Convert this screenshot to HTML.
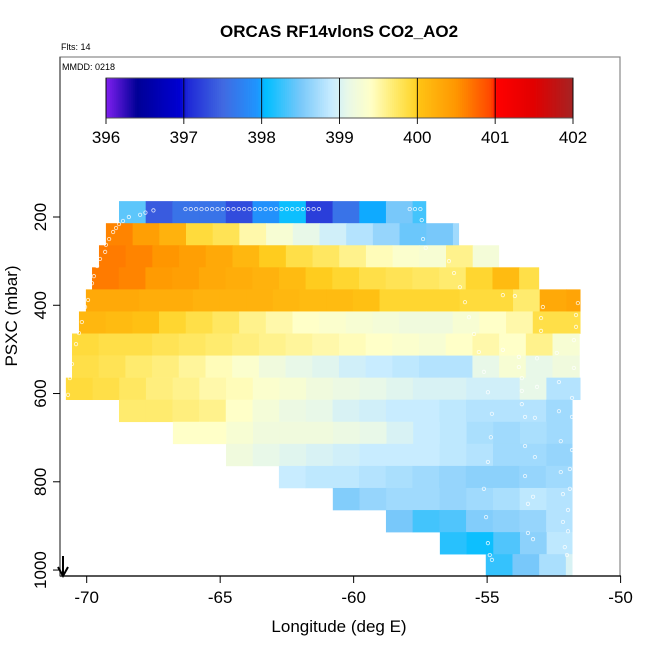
<!DOCTYPE html>
<html><head><meta charset="utf-8"><style>
body{margin:0;background:#fff}
svg{display:block;font-family:"Liberation Sans",sans-serif}
</style></head><body>
<svg id="chart" width="650" height="650" viewBox="0 0 650 650" xmlns="http://www.w3.org/2000/svg">
<rect width="650" height="650" fill="#fff"/>
<text x="339" y="37" text-anchor="middle" font-size="17" font-weight="bold">ORCAS RF14vlonS CO2_AO2</text>
<text x="61" y="50" font-size="9">Flts: 14</text>
<g id="heat"></g>
<g id="pts"></g>
<rect x="60" y="57" width="560" height="519" fill="none" stroke="#888" stroke-width="1.2"/>
<line x1="60" y1="576" x2="621" y2="576" stroke="#000" stroke-width="1.3"/>
<line x1="60" y1="57" x2="60" y2="576" stroke="#555" stroke-width="1.3"/>
<text x="62" y="70" font-size="9">MMDD: 0218</text>
<g id="cbar"></g>
<g id="axes"></g>
<text x="339" y="632" text-anchor="middle" font-size="17">Longitude (deg E)</text>
<text transform="translate(17,316) rotate(-90)" text-anchor="middle" font-size="17">PSXC (mbar)</text>
<g><line x1="63" y1="556" x2="63" y2="575" stroke="#000" stroke-width="2"/><path d="M58,567 L63,576 L68,567" fill="none" stroke="#000" stroke-width="2"/></g>
</svg>
<script>
const rowPressure=[189,239,289,339,389,439,489,539,589,639,689,739,789,839,889,939,989];
const rowStartLon=[-68.79,-69.28,-69.54,-69.80,-70.03,-70.29,-70.55,-70.55,-70.78,-68.79,-66.77,-64.78,-62.80,-60.78,-58.79,-56.77,-55.05];
const rowEndLon=[-57.3,-56.07,-54.57,-53.07,-51.52,-51.52,-51.52,-51.52,-51.52,-51.82,-51.82,-51.82,-51.82,-51.82,-51.82,-51.82,-51.82];
const rowValues=[
[398.4,397.4,397.6,397.6,397.3,397.9,398.1,397.2,397.6,398.0,398.5,398.3],
[400.6,400.4,400.2,399.9,399.8,399.5,399.3,399.1,398.95,398.8,398.65,398.45,398.5,398.7],
[400.65,400.6,400.5,400.4,400.3,400.15,400.0,399.85,399.75,399.6,399.45,399.35,399.3,399.6,399.25],
[400.65,400.6,400.45,400.4,400.3,400.25,400.2,400.1,400.0,399.95,399.85,399.8,399.75,399.7,399.95,400.1,399.85],
[400.3,400.3,400.25,400.25,400.2,400.2,400.2,400.15,400.1,400.1,400.05,399.95,399.95,399.95,399.9,399.9,399.7,400.3,400.35],
[400.15,400.1,400.05,399.95,399.85,399.75,399.6,399.5,399.4,399.35,399.3,399.25,399.2,399.2,399.3,399.4,399.5,399.85,399.85],
[399.9,399.85,399.85,399.8,399.75,399.7,399.65,399.6,399.55,399.5,399.45,399.4,399.35,399.3,399.4,399.5,399.4,399.6,399.3],
[399.85,399.8,399.7,399.65,399.55,399.45,399.35,399.2,399.1,399.05,398.95,398.9,398.85,398.8,398.8,399.1,399.3,399.1,399.2],
[399.9,399.85,399.75,399.65,399.6,399.5,399.45,399.35,399.3,399.2,399.15,399.1,399.05,399.0,399.0,398.95,398.95,399.1,398.8,398.8],
[399.7,399.7,399.65,399.6,399.4,399.25,399.15,399.1,399.0,398.95,398.9,398.9,398.85,398.8,398.8,398.8,398.7],
[399.4,399.4,399.3,399.2,399.2,399.2,399.15,399.1,399.0,398.9,398.85,398.75,398.7,398.75,398.7],
[399.2,399.1,399.05,399.0,398.95,398.9,398.9,398.9,398.85,398.8,398.7,398.7,398.65],
[398.9,398.85,398.85,398.8,398.75,398.7,398.65,398.6,398.6,398.65,398.7],
[398.55,398.65,398.7,398.7,398.65,398.7,398.75,398.85,398.8],
[398.5,398.3,398.35,398.55,398.6,398.65,398.8],
[398.2,398.1,398.35,398.6,398.85],
[398.25,398.5,398.75,399.0]
];
const ptLon=[-68.42,-68.64,-68.79,-68.90,-69.01,-69.16,-69.28,-69.31,-69.50,-69.61,-69.73,-69.80,-69.95,-70.06,-70.18,-70.29,-70.40,-70.55,-70.63,-70.70,
-68.0,-67.8,-67.5,-66.3,-66.1,-65.9,-65.7,-65.5,-65.3,-65.1,-64.9,-64.7,-64.5,-64.3,-64.1,-63.9,-63.7,-63.5,-63.3,-63.1,-62.9,-62.7,-62.5,-62.3,-62.1,-61.9,-61.7,-61.5,-61.3,-57.9,-57.7,-57.5,-57.45,-57.4,-57.3,
-56.43,-56.24,-56.02,-55.83,-55.68,-55.49,-55.31,-55.12,-54.97,-54.82,-54.86,-54.97,-55.12,-55.04,-54.97,-54.90,-54.82,
-54.41,-53.96,-54.41,-53.81,-53.81,-53.70,-53.70,-53.70,-53.58,-53.58,-53.58,-53.47,-53.47,
-52.91,-52.98,-52.98,-53.13,-53.13,-53.21,-53.21,-53.28,-53.28,
-52.39,-52.31,-52.31,-52.24,-52.24,-52.16,-52.16,-52.09,-52.01,
-51.60,-51.67,-51.67,-51.75,-51.75,-51.82,-51.82,-51.82,-51.90,-51.90,-51.97,-51.97];
const ptP=[200,209,216,225,234,250,263,279,295,311,334,350,388,404,438,463,488,533,565,603,
195,190,185,182,182,182,182,182,182,182,182,182,182,182,182,182,182,182,182,182,182,182,182,182,182,182,182,182,182,182,182,182,207,250,270,
300,327,359,393,427,465,506,551,597,646,699,755,816,880,939,966,977,
377,379,501,517,540,565,594,624,653,719,787,850,916,
404,429,458,520,585,655,744,834,930,
508,574,640,708,778,828,891,948,966,
395,422,449,479,542,610,653,728,771,816,864,912];
const cbTicks=[396,397,398,399,400,401,402];
const xTicks=[-70,-65,-60,-55,-50];
const yTicks=[200,400,600,800,1000];

const NS='http://www.w3.org/2000/svg';
const X0=60,X1=620.6,LON0=-71,LON1=-50;
const Y0=57,Y1=576,P0=-162.6,P1=1013.5;
function xs(l){return X0+(l-LON0)/(LON1-LON0)*(X1-X0);}
function ys(p){return Y0+(p-P0)/(P1-P0)*(Y1-Y0);}
const stops=[[396,[128,32,240]],[396.4,[0,0,150]],[396.95,[0,0,210]],[397.05,[30,40,215]],[397.5,[65,105,225]],[397.95,[30,150,255]],[398.05,[0,190,255]],[398.5,[120,200,250]],[398.9,[200,236,255]],[399.1,[232,248,232]],[399.4,[255,255,200]],[399.7,[255,235,110]],[399.98,[255,212,40]],[400.02,[255,195,20]],[400.5,[255,150,0]],[400.95,[255,70,0]],[401.02,[255,0,0]],[401.5,[225,0,0]],[402,[165,35,35]]];
function col(v){
  if(v<=stops[0][0])return 'rgb('+stops[0][1]+')';
  for(let i=1;i<stops.length;i++){if(v<=stops[i][0]){const a=stops[i-1],b=stops[i];const t=(v-a[0])/(b[0]-a[0]);return 'rgb('+a[1].map((c,k)=>Math.round(c+(b[1][k]-c)*t)).join(',')+')';}}
  return 'rgb('+stops[stops.length-1][1]+')';
}
function mk(tag,attrs,parent){const e=document.createElementNS(NS,tag);for(const k in attrs)e.setAttribute(k,attrs[k]);parent.appendChild(e);return e;}
const heat=document.getElementById('heat');
rowValues.forEach((vals,r)=>{
  const yt=ys(rowPressure[r]-25),yb=ys(rowPressure[r]+25);
  vals.forEach((v,i)=>{
    const l0=rowStartLon[r]+i,l1=Math.min(rowStartLon[r]+i+1,rowEndLon[r]);
    if(l1<=l0)return;
    const c=mk('rect',{x:xs(l0),y:yt,width:xs(l1)-xs(l0)+0.5,height:yb-yt+0.3,fill:col(v)},heat);
    
    
  });
});
const pts=document.getElementById('pts');
ptLon.forEach((l,i)=>{
  const c=mk('circle',{cx:xs(l),cy:ys(ptP[i]),r:1.7,fill:'none',stroke:'#fff','stroke-width':0.8,opacity:0.85},pts);
  
  
});
const cb=document.getElementById('cbar');
const CB0=106,CB1=573,CBT=78,CBB=118;
function cx(v){return CB0+(v-396)/6*(CB1-CB0);}
for(let i=0;i<240;i++){const v=396+6*i/240;const r=mk('rect',{x:cx(v),y:CBT,width:(CB1-CB0)/240+0.4,height:CBB-CBT,fill:col(v+0.0125)},cb);}
mk('rect',{x:CB0,y:CBT,width:CB1-CB0,height:CBB-CBT,fill:'none',stroke:'#555','stroke-width':1},cb);
cbTicks.forEach(v=>{
  mk('line',{x1:cx(v),y1:CBT,x2:cx(v),y2:CBB+6,stroke:'#000','stroke-width':0.9},cb);
  const t=mk('text',{x:cx(v),y:143,'text-anchor':'middle','font-size':17},cb);t.textContent=v;
  
  
});
const ax=document.getElementById('axes');
xTicks.forEach(v=>{
  mk('line',{x1:xs(v),y1:576,x2:xs(v),y2:583,stroke:'#000'},ax);
  const t=mk('text',{x:xs(v),y:603,'text-anchor':'middle','font-size':17},ax);t.textContent=v;
  
  
});
yTicks.forEach(v=>{
  mk('line',{x1:53,y1:ys(v),x2:60,y2:ys(v),stroke:'#000'},ax);
  const t=mk('text',{transform:'translate(46,'+ys(v)+') rotate(-90)','text-anchor':'middle','font-size':17},ax);t.textContent=v;
  
  
});
</script>
</body></html>
